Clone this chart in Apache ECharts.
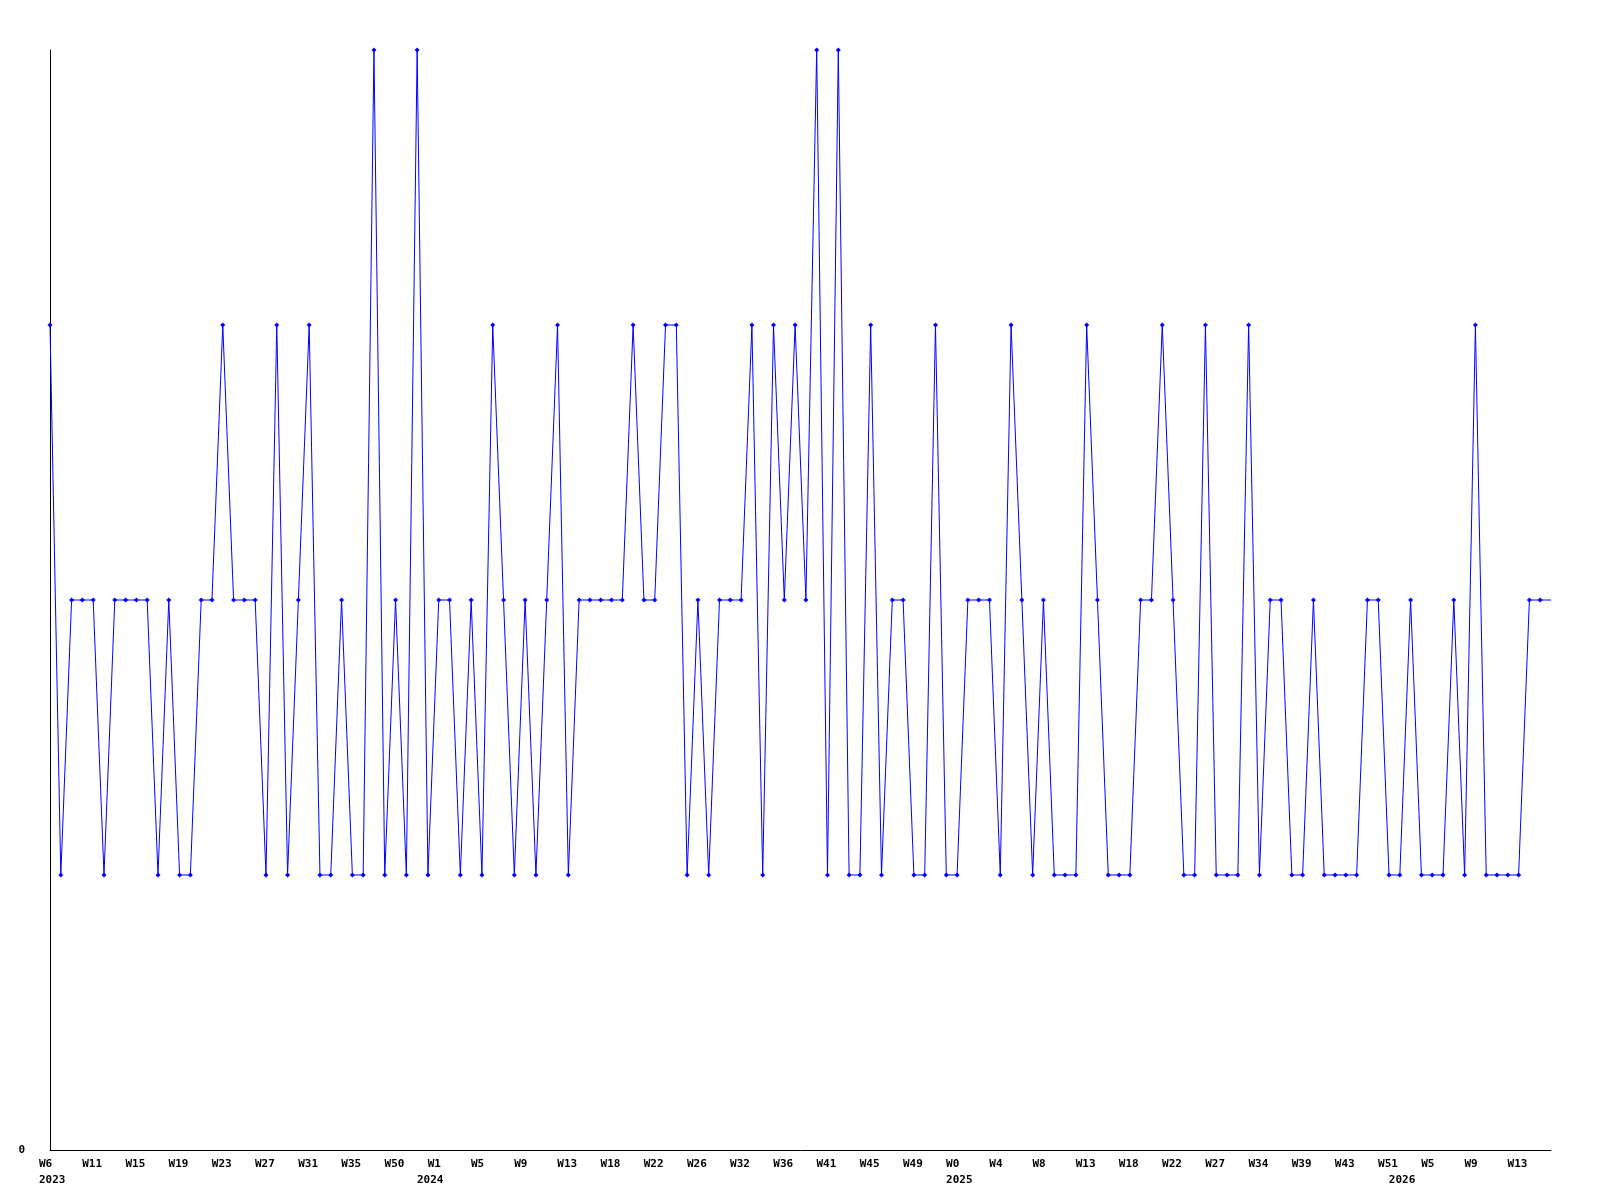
<!DOCTYPE html>
<html>
<head>
<meta charset="utf-8">
<title>weekly</title>
<script src="https://cdn.jsdelivr.net/npm/echarts@6/dist/echarts.min.js"></script>
<style>
  html, body { margin: 0; padding: 0; background: #fff; }
  #chart { width: 1600px; height: 1200px; }
</style>
</head>
<body>
<div id="chart"></div>
<script>
// weekly values, one point per week (140 points)
const values = [
  3, 1, 2, 2, 2, 1, 2, 2, 2, 2, 1, 2, 1, 1, 2, 2, 3, 2, 2, 2, 1, 3, 1, 2, 3, 1, 1, 2,
  1, 1, 4, 1, 2, 1, 4, 1, 2, 2, 1, 2, 1, 3, 2, 1, 2, 1, 2, 3, 1, 2, 2, 2, 2, 2, 3, 2,
  2, 3, 3, 1, 2, 1, 2, 2, 2, 3, 1, 3, 2, 3, 2, 4, 1, 4, 1, 1, 3, 1, 2, 2, 1, 1, 3, 1,
  1, 2, 2, 2, 1, 3, 2, 1, 2, 1, 1, 1, 3, 2, 1, 1, 1, 2, 2, 3, 2, 1, 1, 3, 1, 1, 1, 3,
  1, 2, 2, 1, 1, 2, 1, 1, 1, 1, 2, 2, 1, 1, 2, 1, 1, 1, 2, 1, 3, 1, 1, 1, 1, 2, 2, 2
]

// week labels, shown on every 4th point
const weekLabels = [
  'W6', 'W11', 'W15', 'W19', 'W23', 'W27', 'W31', 'W35', 'W50', 'W1', 'W5', 'W9',
  'W13', 'W18', 'W22', 'W26', 'W32', 'W36', 'W41', 'W45', 'W49', 'W0', 'W4', 'W8',
  'W13', 'W18', 'W22', 'W27', 'W34', 'W39', 'W43', 'W51', 'W5', 'W9', 'W13'
]
const labelStep = 4

// year labels and the point where each year starts
const years = ['2023', '2024', '2025', '2026']
const yearIndex = [0, 35, 84, 125]

const categories = values.map((v, i) => String(i))

const chart = echarts.init(document.getElementById('chart'))

const labelFont = {
  fontFamily: 'DejaVu Sans Mono',
  fontWeight: 'bold',
  fontSize: 11,
  color: '#000'
}

chart.setOption({
  animation: false,
  grid: { left: 50, right: 49, top: 50, bottom: 50, containLabel: false },
  xAxis: {
    type: 'category',
    data: categories,
    boundaryGap: false,
    axisLine: { lineStyle: { color: '#000', width: 1 } },
    axisTick: { show: false },
    splitLine: { show: false },
    axisLabel: {
      ...labelFont,
      interval: 0,
      align: 'left',
      margin: 6,
      lineHeight: 16,
      padding: [0, 0, 0, -11],
      formatter: (val, idx) => {
        const week = idx % labelStep === 0 ? weekLabels[idx / labelStep] : ''
        const y = yearIndex.indexOf(idx)
        if (y >= 0) return week + '\n' + years[y]
        return week
      }
    }
  },
  yAxis: {
    type: 'value',
    min: 0,
    max: 4,
    interval: 4,
    axisLine: { show: true, lineStyle: { color: '#000', width: 1 } },
    axisTick: { show: false },
    splitLine: { show: false },
    axisLabel: {
      ...labelFont,
      margin: 25,
      formatter: (v) => (v === 0 ? '0' : '')
    }
  },
  series: [{
    type: 'line',
    // last point is drawn without a marker, as in the source
    data: values.map((v, i) => (i === values.length - 1 ? { value: v, symbol: 'none' } : v)),
    symbol: 'diamond',
    symbolSize: 5,
    showAllSymbol: true,
    lineStyle: { color: '#0000ff', width: 1 },
    itemStyle: { color: '#0000ff' }
  }]
})
</script>
</body>
</html>
